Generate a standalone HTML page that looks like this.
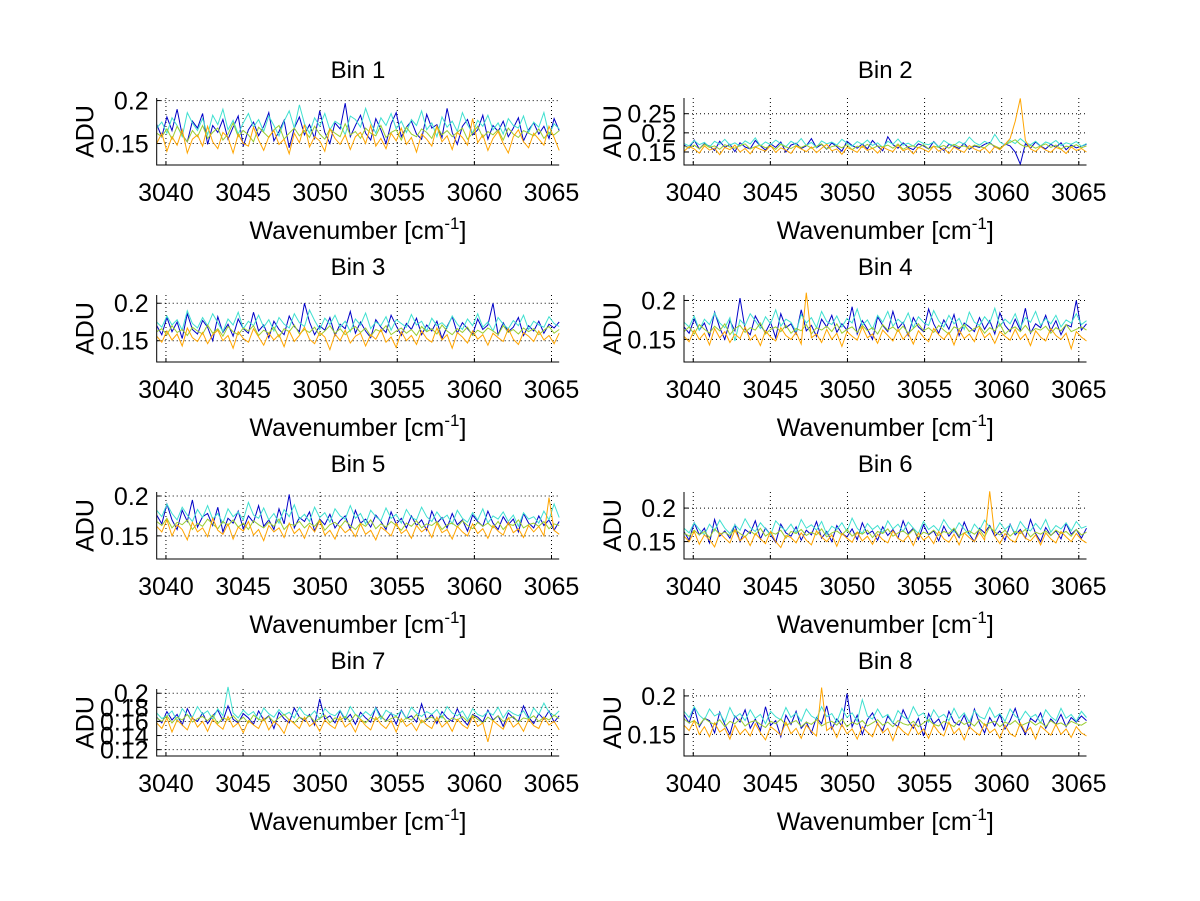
<!DOCTYPE html>
<html><head><meta charset="utf-8"><style>
html,body{margin:0;padding:0;background:#fff;}
svg{display:block;font-family:"Liberation Sans",sans-serif;}
</style></head><body>
<svg id="fig" width="1200" height="901" viewBox="0 0 1200 901"></svg>
<script>
const binTitles = ["Bin 1","Bin 2","Bin 3","Bin 4","Bin 5","Bin 6","Bin 7","Bin 8"];
const xTicks = [3040,3045,3050,3055,3060,3065];
const xRange = [3039.4,3065.5];
const yRanges = [[0.125,0.203],[0.116,0.291],[0.1216,0.211],[0.121,0.207],[0.121,0.205],[0.124,0.224],[0.111,0.206],[0.122,0.209]];
const yTicks = [[0.15,0.2],[0.15,0.2,0.25],[0.15,0.2],[0.15,0.2],[0.15,0.2],[0.15,0.2],[0.12,0.14,0.16,0.18,0.2],[0.15,0.2]];
const yTickLabels = [["0.15","0.2"],["0.15","0.2","0.25"],["0.15","0.2"],["0.15","0.2"],["0.15","0.2"],["0.15","0.2"],["0.12","0.14","0.16","0.18","0.2"],["0.15","0.2"]];
const seriesColors = ["#0000c8","#40e0d0","#9acd32","#ffa500"];
// values in milli-ADU
const blue1 = [172,158,181,165,190,160,152,176,168,185,149,171,163,178,155,169,182,147,166,175,159,170,186,153,164,177,145,168,181,160,172,156,188,163,150,174,167,197,158,171,183,162,154,179,166,150,173,186,158,169,176,161,155,184,168,172,157,191,163,149,170,178,160,166,183,155,171,164,176,158,168,180,153,166,174,161,170,156,179,165];
const cyan1 = [168,175,162,180,171,158,186,174,165,179,160,183,172,190,166,177,161,174,185,169,178,164,182,171,159,176,188,168,195,173,162,180,170,185,166,176,172,160,182,178,169,191,174,162,180,171,185,167,176,163,178,171,188,166,174,158,181,169,176,164,186,172,162,177,170,183,166,174,161,179,171,168,182,163,175,169,186,160,173,167];
const green1 = [162,158,167,155,170,160,152,165,158,171,156,163,168,154,161,174,158,165,160,152,169,163,157,166,171,155,162,168,159,165,157,170,161,155,167,162,158,173,160,164,156,168,162,159,171,157,163,166,154,169,161,158,167,163,156,170,160,165,158,163,168,155,162,170,157,164,160,166,154,168,161,157,165,162,159,167,156,163,160,165];
const orange1 = [150,162,141,158,148,166,139,155,160,147,170,152,144,163,157,139,161,150,147,169,154,142,158,165,149,155,138,162,151,172,146,158,153,141,167,156,149,160,143,158,163,150,171,147,156,144,162,153,168,149,157,140,161,155,147,170,152,159,143,163,157,148,179,151,160,142,156,164,150,139,158,166,152,145,162,155,148,170,157,142];
const blue2 = [168,160,181,158,172,165,154,178,162,170,151,174,163,158,180,166,155,171,162,176,150,168,173,159,166,185,161,170,157,174,164,152,178,167,160,171,158,180,165,153,190,169,160,174,162,156,171,166,158,177,163,154,170,165,159,173,157,166,162,170,175,163,158,171,166,150,118,172,160,176,165,158,170,162,174,156,168,161,165,170];
const cyan2 = [172,166,180,169,175,163,178,170,183,168,174,165,179,171,187,166,176,169,181,172,164,178,170,185,167,175,162,179,171,176,168,183,173,165,177,170,181,167,174,162,178,170,184,168,173,165,179,172,169,176,163,180,171,167,177,170,189,175,168,178,171,196,176,168,180,172,185,174,169,178,166,176,171,180,167,174,170,177,165,172];
const green2 = [165,161,168,158,170,162,166,157,169,163,160,167,171,158,164,168,161,166,157,170,163,159,167,162,168,160,165,171,158,164,167,161,169,156,165,162,170,159,166,163,168,160,171,157,164,166,161,169,158,165,162,167,160,170,163,166,159,168,164,161,172,166,160,169,175,182,170,163,167,160,166,171,162,168,158,165,163,169,161,166];
const orange2 = [152,164,158,147,166,155,160,143,162,156,168,150,159,145,163,157,152,167,149,161,155,146,165,158,151,163,148,160,170,153,158,144,162,156,149,166,154,160,147,163,156,151,168,153,159,145,162,157,150,165,152,160,146,163,155,149,167,158,152,161,147,164,156,170,185,230,290,180,158,151,164,155,149,162,157,146,163,154,159,150];
const blue3 = [170,158,181,162,175,153,186,165,159,177,168,150,182,161,172,156,179,166,160,188,163,171,154,176,165,158,183,169,162,200,175,158,170,164,181,157,172,166,189,160,175,163,154,178,168,161,184,170,157,173,165,180,158,171,163,176,153,169,182,160,174,166,158,179,165,171,200,158,174,162,168,181,157,170,163,176,160,172,167,175];
const cyan3 = [175,168,183,171,178,164,190,173,167,181,170,186,174,162,179,171,188,166,176,170,184,168,178,163,181,172,167,186,174,169,191,177,165,180,172,184,168,176,162,179,171,187,166,175,170,182,164,178,173,168,185,171,176,163,180,170,174,167,183,172,165,179,170,186,168,175,163,181,172,166,177,170,184,165,176,171,168,182,173,169];
const green3 = [162,166,158,170,161,165,157,168,163,159,171,160,166,156,169,162,158,167,163,170,157,164,160,168,155,166,162,171,159,165,161,168,157,163,170,160,166,158,164,169,161,167,156,165,162,170,158,163,167,160,165,157,169,162,166,159,171,163,158,166,161,168,157,164,160,167,163,158,170,161,165,159,167,162,166,158,164,169,160,165];
const orange3 = [156,148,163,151,159,143,167,154,149,161,146,158,164,150,157,140,162,153,148,166,155,144,160,151,158,142,163,149,157,168,152,146,161,155,138,159,150,164,147,156,160,143,158,152,165,148,155,141,162,150,157,145,163,153,148,167,151,158,140,161,155,147,163,152,158,144,160,154,149,166,152,145,161,156,149,163,151,157,146,160];
const blue4 = [166,158,176,162,171,154,185,165,150,174,161,203,163,156,180,168,159,172,152,183,165,170,157,188,161,168,154,176,166,181,159,170,162,192,157,174,163,150,179,168,160,186,164,172,155,178,166,160,189,170,158,175,163,182,155,171,166,160,178,163,174,157,184,168,160,176,162,190,158,170,165,181,161,174,156,169,166,200,162,170];
const cyan4 = [172,166,180,162,176,169,184,171,165,178,148,175,168,183,174,164,179,170,188,167,176,172,160,182,171,178,165,186,173,169,180,166,177,171,189,168,175,163,181,172,186,167,176,170,184,165,179,172,168,187,174,166,181,170,177,163,185,172,168,179,171,190,167,176,170,183,165,178,172,186,168,177,170,181,166,175,171,183,169,174];
const green4 = [160,166,157,169,163,158,167,161,170,156,164,168,159,165,162,171,157,163,166,160,168,158,164,161,169,157,165,162,167,160,170,158,163,166,159,168,161,165,157,169,162,166,160,167,158,164,170,161,165,159,168,162,157,166,163,169,160,164,167,158,165,161,170,157,163,166,160,168,159,164,162,167,158,165,161,169,160,163,166,162];
const orange4 = [154,147,162,150,158,143,164,152,160,146,157,151,166,149,156,142,161,153,148,165,155,150,159,144,210,152,157,146,163,150,158,141,160,154,149,166,152,157,145,162,155,148,163,150,158,144,161,153,147,164,156,150,159,143,162,151,157,147,165,152,158,145,160,154,149,163,150,157,142,161,153,148,164,155,150,158,138,160,153,148];
const blue5 = [176,165,190,170,158,182,168,195,161,174,178,163,186,155,172,166,181,159,175,167,188,162,170,158,184,165,202,160,173,168,180,156,171,164,177,160,169,175,158,182,166,171,161,176,168,158,180,165,172,160,175,163,170,157,181,166,173,160,178,164,170,156,176,168,162,181,166,158,174,164,171,155,178,166,160,175,163,170,157,168];
const cyan5 = [182,174,190,178,170,186,176,168,183,173,188,171,178,166,184,174,180,170,192,176,172,185,170,178,166,183,174,189,171,177,168,186,173,179,167,184,175,171,188,172,178,165,182,174,169,185,172,177,166,183,173,170,186,174,168,180,171,176,165,182,172,167,179,170,184,166,175,171,180,168,176,162,179,171,174,166,181,170,190,173];
const green5 = [168,163,172,160,167,164,170,158,166,162,171,165,159,168,163,170,161,166,158,169,164,160,167,162,171,158,165,163,168,160,166,162,170,157,164,167,161,169,163,158,166,162,170,159,165,161,168,163,157,166,162,169,160,165,163,168,158,164,166,161,169,163,159,167,162,166,160,168,158,165,163,170,160,164,166,162,168,159,165,163];
const orange5 = [162,155,170,150,164,158,145,167,155,160,149,172,157,152,165,146,161,156,168,151,158,144,163,155,160,148,166,153,159,147,163,155,169,151,157,146,162,154,159,149,165,152,157,145,161,156,150,166,153,158,147,163,155,160,148,166,154,158,146,162,155,150,165,153,159,147,163,156,151,167,154,159,148,163,155,162,150,198,157,152];
const blue6 = [165,152,178,160,170,148,183,158,166,155,175,150,168,162,181,154,170,160,149,176,163,158,172,152,167,160,180,155,165,150,174,162,157,169,153,178,161,166,152,172,159,168,155,181,162,170,153,175,160,166,151,173,158,168,156,179,161,150,170,163,174,158,166,152,176,160,168,155,183,162,150,171,159,166,154,177,161,168,155,170];
const cyan6 = [170,163,178,168,160,176,166,182,170,162,175,167,184,171,165,178,169,160,181,172,166,176,163,183,170,175,167,180,161,173,168,178,165,185,170,162,177,168,174,163,181,169,176,165,179,170,162,180,168,174,166,183,171,164,178,169,160,176,167,182,171,165,178,168,175,162,180,170,166,177,168,183,164,174,169,178,166,180,170,173];
const green6 = [163,158,167,160,165,156,169,161,164,159,168,162,157,166,160,170,158,164,161,167,155,165,162,168,159,164,160,169,157,163,166,160,168,158,164,161,167,156,165,162,169,158,163,166,160,168,157,164,161,167,159,165,162,170,158,163,166,161,168,157,172,164,160,167,158,165,162,168,157,164,161,166,159,167,162,165,158,168,160,164];
const orange6 = [158,150,165,146,160,153,142,163,155,148,167,151,158,144,162,154,147,165,150,141,159,156,148,163,152,145,166,157,150,160,143,162,155,149,164,151,158,146,161,153,148,166,155,150,159,144,163,152,158,147,165,154,149,161,145,163,156,150,164,152,225,158,147,162,153,149,166,155,151,160,145,163,154,148,165,157,150,162,153,148];
const blue7 = [166,158,174,162,170,155,178,164,160,172,157,168,176,161,182,163,158,171,165,156,175,162,168,150,173,164,158,179,166,161,170,155,192,163,168,158,175,162,170,156,173,165,159,180,167,161,172,156,176,164,168,159,185,162,170,157,174,165,160,178,163,155,170,166,159,176,162,168,153,172,165,160,182,166,157,171,163,175,159,168];
const cyan7 = [172,164,168,175,160,178,169,166,181,170,175,163,178,168,209,172,165,176,169,174,162,179,171,166,177,169,173,165,180,170,167,175,163,178,171,168,176,164,181,170,166,174,168,179,163,176,171,168,175,164,180,172,167,174,170,177,165,181,172,168,175,163,178,170,167,174,169,180,165,176,171,168,175,163,179,170,186,173,168,175];
const green7 = [165,160,168,158,166,162,170,159,164,167,161,169,157,165,162,168,160,166,158,169,163,161,167,159,165,170,162,158,166,163,168,160,164,169,158,165,162,167,160,170,163,158,166,162,168,160,164,167,159,165,162,170,158,164,166,161,168,159,165,162,167,160,169,163,158,166,161,168,160,164,167,159,165,163,168,160,166,162,169,164];
const orange7 = [158,150,165,145,162,155,148,166,152,160,146,163,155,149,167,152,158,144,161,155,150,165,148,160,154,143,163,157,150,166,153,159,146,162,155,150,167,152,158,145,163,154,148,166,156,150,161,145,164,153,158,147,162,155,150,166,152,159,146,163,155,150,167,153,158,131,161,155,149,165,152,158,146,163,154,150,166,155,160,148];
const blue8 = [176,165,185,160,171,168,152,179,163,150,174,166,182,158,170,155,186,162,168,147,175,163,180,158,166,152,172,164,187,157,170,161,203,160,175,150,169,178,163,155,174,165,160,182,168,158,171,148,177,164,170,156,180,166,162,175,158,183,165,152,172,161,176,157,168,184,163,150,171,166,178,158,170,163,176,160,172,166,174,168];
const cyan8 = [180,172,186,175,169,183,174,178,166,185,172,177,168,182,171,176,164,180,173,169,185,172,178,167,183,174,170,186,173,177,166,184,172,178,167,195,174,170,183,172,176,165,181,173,169,186,174,178,166,182,172,176,168,184,171,178,166,181,173,170,185,172,177,167,183,174,169,180,172,176,165,182,173,168,184,171,176,167,180,172];
const green8 = [170,165,168,162,171,166,163,169,160,167,164,170,161,166,168,163,159,167,164,170,162,165,168,160,166,163,169,161,165,167,162,170,160,166,163,168,161,165,169,162,166,160,168,164,162,167,160,165,169,163,161,167,164,160,168,163,166,161,169,162,165,167,160,166,163,168,161,164,167,162,166,160,168,163,165,161,167,164,162,166];
const orange8 = [162,155,168,150,160,147,165,153,158,144,162,150,157,148,164,152,143,160,155,149,166,151,158,145,162,154,148,211,155,160,146,163,151,157,144,160,153,147,165,152,158,142,161,154,149,163,150,157,145,162,153,148,166,151,158,143,160,154,149,164,152,157,145,162,151,147,165,153,159,144,161,155,149,163,150,157,146,160,152,148];
const binSeries = [[blue1,cyan1,green1,orange1],[blue2,cyan2,green2,orange2],[blue3,cyan3,green3,orange3],[blue4,cyan4,green4,orange4],[blue5,cyan5,green5,orange5],[blue6,cyan6,green6,orange6],[blue7,cyan7,green7,orange7],[blue8,cyan8,green8,orange8]];

const NS="http://www.w3.org/2000/svg";
const svg=document.getElementById('fig');
function mk(tag,attrs,parent){const e=document.createElementNS(NS,tag);for(const k in attrs)e.setAttribute(k,attrs[k]);(parent||svg).appendChild(e);return e;}
const colX=[156.7,684], plotW=402.5, rowTop=[98,295,492,689], plotH=67;
const seriesNames=["blue","cyan","green","orange"];
binTitles.forEach((title,b)=>{
  const L=colX[b%2], T=rowTop[Math.floor(b/2)], B=T+plotH, R=L+plotW;
  const yr=yRanges[b];
  const sx=v=>L+(v-xRange[0])/(xRange[1]-xRange[0])*plotW;
  const sy=v=>B-(v-yr[0])/(yr[1]-yr[0])*plotH;
  const g=mk('g',{});
  
  
  xTicks.forEach(t=>{const x=sx(t);const l=mk('line',{x1:x,x2:x,y1:T,y2:B,stroke:'#000','stroke-width':1,'stroke-dasharray':'1,3'},g);
    
    
    mk('line',{x1:x,x2:x,y1:B,y2:B-4,stroke:'#000'},g);
    const tx=mk('text',{x:x,y:B+36,'font-size':25,'text-anchor':'middle'},g);tx.textContent=t;
    
    });
  yTicks[b].forEach((t,i)=>{const y=sy(t);const l=mk('line',{x1:L,x2:R,y1:y,y2:y,stroke:'#000','stroke-width':1,'stroke-dasharray':'1,3'},g);
    
    
    mk('line',{x1:L,x2:L+4,y1:y,y2:y,stroke:'#000'},g);
    const tx=mk('text',{x:L-8,y:y+9,'font-size':25,'text-anchor':'end'},g);tx.textContent=yTickLabels[b][i];
    
    });
  binSeries[b].forEach((arr,s)=>{
    const n=arr.length;
    const pts=arr.map((v,i)=>sx(xRange[0]+i*(xRange[1]-xRange[0])/(n-1)).toFixed(1)+','+sy(v/1000).toFixed(1)).join(' ');
    const p=mk('polyline',{points:pts,fill:'none',stroke:seriesColors[s],'stroke-width':1},g);
    
    
  });
  const ax=mk('path',{d:`M${L},${T} V${B} H${R}`,fill:'none',stroke:'#000','stroke-width':1},g);
  
  
  const tt=mk('text',{x:(L+R)/2,y:T-20,'font-size':24,'text-anchor':'middle'},g);tt.textContent=title;
  
  
  const xl=mk('text',{x:(L+R)/2,y:B+74,'font-size':25,'text-anchor':'middle'},g);
  xl.innerHTML='Wavenumber [cm<tspan dy="-10" font-size="17">-1</tspan><tspan dy="10">]</tspan>';
  
  
  const yl=mk('text',{x:0,y:0,'font-size':25,'text-anchor':'middle',transform:`translate(${L-63},${(T+B)/2}) rotate(-90)`},g);yl.textContent='ADU';
  
  
});
</script>
</body></html>
